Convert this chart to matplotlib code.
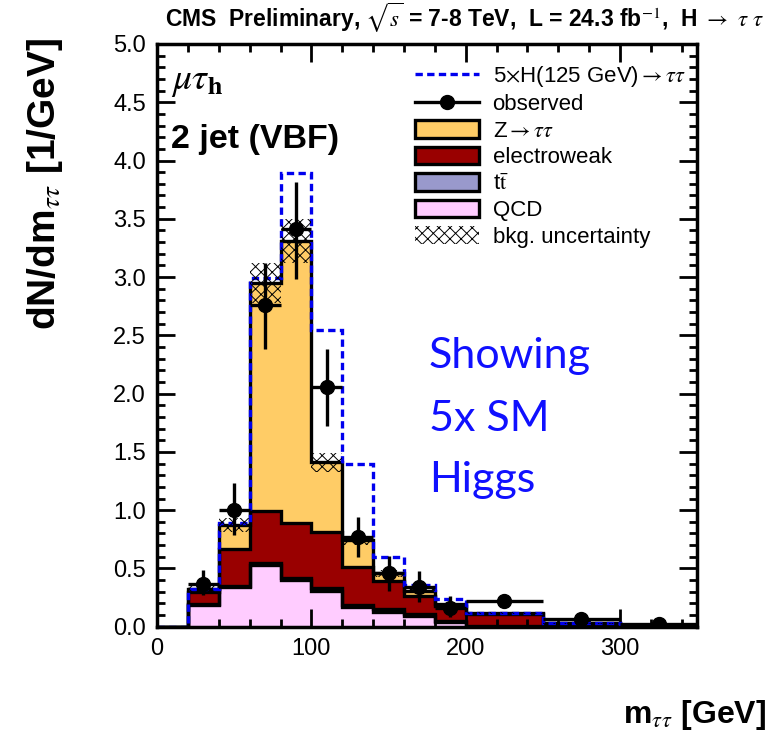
import matplotlib
matplotlib.use("Agg")
import matplotlib.pyplot as plt
from matplotlib.lines import Line2D
from matplotlib.patches import Patch
import numpy as np

plt.rcParams['font.family'] = ['Liberation Sans', 'DejaVu Sans']
plt.rcParams['mathtext.fontset'] = 'stix'
plt.rcParams['hatch.linewidth'] = 0.7

# bin edges in m_tautau [GeV]
edges = np.array([0, 20, 40, 60, 80, 100, 120, 140, 160, 180, 200, 250, 300, 350])

# stacked backgrounds, dN/dm [1/GeV]
qcd = np.array([0, 0.19, 0.34, 0.53, 0.40, 0.31, 0.17, 0.13, 0.09, 0.04, 0, 0, 0])
ttbar = np.array([0, 0.005, 0.01, 0.02, 0.02, 0.02, 0.02, 0.02, 0.015, 0.012, 0.008, 0.004, 0.002])
ewk = np.array([0, 0.10, 0.32, 0.44, 0.47, 0.48, 0.32, 0.24, 0.16, 0.13, 0.10, 0.025, 0.004])
ztt = np.array([0, 0.025, 0.20, 1.96, 2.42, 0.60, 0.23, 0.07, 0.04, 0.015, 0.007, 0.002, 0.001])
bkg_unc = np.array([0, 0.03, 0.06, 0.17, 0.19, 0.08, 0.04, 0.03, 0.02, 0.01, 0.01, 0.005, 0.002])
higgs5 = np.array([0, 0.0, 0.02, 0.04, 0.58, 1.14, 0.66, 0.14, 0.05, 0.04, 0.0, 0.0, 0.0])

# observed data
obs_x = np.array([30, 50, 70, 90, 110, 130, 150, 170, 190, 225, 275, 325])
obs_y = np.array([0.37, 1.00, 2.76, 3.41, 2.06, 0.77, 0.46, 0.34, 0.16, 0.22, 0.07, 0.02])
obs_lo = np.array([0.10, 0.21, 0.38, 0.43, 0.34, 0.17, 0.15, 0.13, 0.08, 0.05, 0.03, 0.02])
obs_hi = np.array([0.12, 0.23, 0.36, 0.41, 0.32, 0.17, 0.15, 0.14, 0.10, 0.05, 0.03, 0.02])
obs_xerr = np.array([10, 10, 10, 10, 10, 10, 10, 10, 10, 25, 25, 25])

c_ztt = '#ffcc66'
c_ewk = '#990000'
c_tt = '#9999cc'
c_qcd = '#ffccff'
c_sig = '#0000ee'

fig = plt.figure(figsize=(7.78, 7.33), dpi=100)
ax = fig.add_axes([0.202, 0.145, 0.694, 0.795])

# stack from bottom up
layers = [(qcd, c_qcd), (ttbar, c_tt), (ewk, c_ewk), (ztt, c_ztt)]
base = np.zeros(len(qcd))
tops = []
for vals, col in layers:
    top = base + vals
    ax.stairs(top, edges, baseline=base, fill=True, color=col, lw=0, zorder=1)
    tops.append(top)
    base = top
total = base

for top in tops:
    ax.stairs(top, edges, baseline=0, fill=False, color='k', lw=2.4, zorder=2)

# background uncertainty band
ax.stairs(total + bkg_unc, edges, baseline=total - bkg_unc, fill=True,
          facecolor='none', edgecolor='k', hatch='xxx', lw=0, zorder=3)

# 5 x SM Higgs on top of background
ax.stairs(total + higgs5, edges, baseline=None, color=c_sig, lw=2.4,
          ls=(0, (2.2, 1.3)), zorder=2.5)

ax.errorbar(obs_x, obs_y, yerr=[obs_lo, obs_hi], xerr=obs_xerr, fmt='o',
            color='k', ms=10, lw=2.4, capsize=0, zorder=5)

ax.set_xlim(0, 350)
ax.set_ylim(0, 5.0)
ax.set_xticks([0, 100, 200, 300])
ax.set_xticks(np.arange(0, 351, 20), minor=True)
ax.set_yticks(np.arange(0, 5.01, 0.5))
ax.set_yticks(np.arange(0, 5.01, 0.1), minor=True)
ax.set_yticklabels([f"{v:.1f}" for v in np.arange(0, 5.01, 0.5)])
ax.tick_params(which='both', direction='in', top=True, right=True, width=2,
               labelsize=17, pad=8)
ax.tick_params(which='major', length=13)
ax.tick_params(which='minor', length=6)
for s in ax.spines.values():
    s.set_linewidth(2.5)

handles = [
    Line2D([], [], color=c_sig, lw=2.4, ls=(0, (2.2, 1.3))),
    Line2D([], [], color='k', lw=2.4, marker='o', ms=10),
    Patch(facecolor=c_ztt, edgecolor='k', lw=2.4),
    Patch(facecolor=c_ewk, edgecolor='k', lw=2.4),
    Patch(facecolor=c_tt, edgecolor='k', lw=2.4),
    Patch(facecolor=c_qcd, edgecolor='k', lw=2.4),
    Patch(facecolor='white', edgecolor='k', hatch='xxx', lw=0),
]
labels = [r"5$\times$H(125 GeV)$\rightarrow\tau\tau$", "observed",
          r"Z$\rightarrow\tau\tau$", "electroweak", r"t$\bar{\mathrm{t}}$",
          "QCD", "bkg. uncertainty"]
ax.legend(handles, labels, loc='upper left', bbox_to_anchor=(0.44, 1.0),
          frameon=False, fontsize=16, handlelength=2.9, handleheight=0.85,
          labelspacing=0.22, handletextpad=0.6)

ax.text(9, 4.68, r"$\mu\tau_{\mathbf{h}}$", fontsize=27, va='center')
ax.text(9, 4.18, "2 jet (VBF)", fontsize=24.5, fontweight='bold', va='center')

for yy, txt in [(2.32, "Showing"), (1.78, "5x SM"), (1.26, "Higgs")]:
    ax.text(176, yy, txt, fontsize=31, color='#1010ff', va='center',
            family=['Lato', 'DejaVu Sans'])

fig.text(0.212, 0.975,
         r"CMS  Preliminary, $\sqrt{s}$ = 7-8 TeV,  L = 24.3 fb$^{-1}$,  H $\rightarrow$ $\tau$ $\tau$",
         fontsize=16.5, fontweight='bold', va='center', ha='left')
fig.text(0.058, 0.948, r"dN/dm$_{\tau\tau}$ [1/GeV]", rotation=90,
         fontsize=28, fontweight='bold', ha='center', va='top')
fig.text(0.985, 0.025, r"m$_{\tau\tau}$ [GeV]", fontsize=23,
         fontweight='bold', ha='right', va='center')

fig.savefig("out.png", dpi=100)
